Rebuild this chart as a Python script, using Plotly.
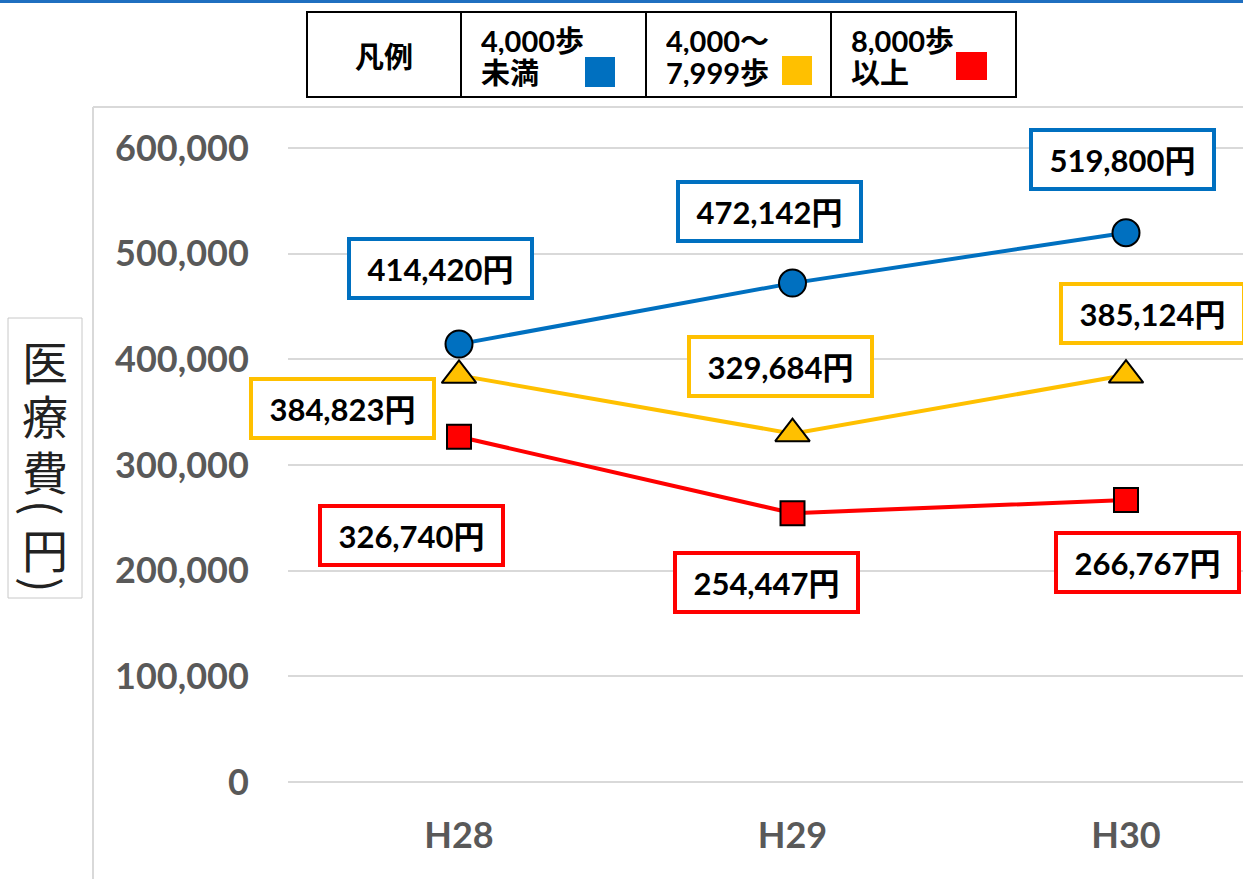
import plotly.graph_objects as go

# ---------------- data ----------------
categories = ["H28", "H29", "H30"]
series_names = ["4,000歩未満", "4,000～7,999歩", "8,000歩以上"]
under_4000 = [414420, 472142, 519800]
from_4000_to_7999 = [384823, 329684, 385124]
over_8000 = [326740, 254447, 266767]
y_ticks = [0, 100000, 200000, 300000, 400000, 500000, 600000]
y_title_chars = ["医", "療", "費", "(", "円", ")"]

# ---------------- layout geometry ----------------
W, H = 1243, 879
L, R, T, B = 288, 0, 116, 77
PW, PH = W - L - R, H - T - B

def pxx(px):
    return (px - L) / PW

def pxy(py):
    return (H - B - py) / PH

# x axis: category i at pixel 459 + 333.5*i
x_unit = 333.5
x0_px = 459
x_range = [(L - x0_px) / x_unit, (W - R - x0_px) / x_unit]
# y axis: 0 at pixel 782, 600000 at pixel 148
per_px = 600000 / (782 - 148)
y_range = [-(H - B - 782) * per_px, 600000 + (148 - T) * per_px]

BLUE = "#0070C0"
YELLOW = "#FFC000"
RED = "#FF0000"

xs = list(range(len(categories)))

fig = go.Figure()
styles = [
    (under_4000, BLUE, "circle", 27),
    (from_4000_to_7999, YELLOW, "triangle-up", 30),
    (over_8000, RED, "square", 24),
]
for name, (vals, col, sym, sz) in zip(series_names, styles):
    fig.add_trace(go.Scatter(
        x=xs, y=vals, mode="lines+markers", name=name,
        line=dict(color=col, width=4),
        marker=dict(symbol=sym, size=sz, color=col, line=dict(color="black", width=2)),
        showlegend=False, cliponaxis=False, hoverinfo="skip",
    ))

# label offsets (box centre relative to marker, pixels; +y up)
label_offsets = [
    [(-19, 76), (-23, 72), (-4, 73)],
    [(-117, -33), (-12, 67), (26, 62)],
    [(-48, -99), (-26, -69), (21, -62)],
]
annotations = []
for (vals, col, _, _), offs in zip(styles, label_offsets):
    for i, (v, (dx, dy)) in enumerate(zip(vals, offs)):
        annotations.append(dict(
            x=i, y=v, xref="x", yref="y", text=f"<b>{v:,}円</b>",
            showarrow=False, xshift=dx, yshift=dy,
            font=dict(family="Lato, Noto Sans CJK JP", size=31, color="black"),
            bgcolor="white", bordercolor=col, borderwidth=4, borderpad=2,
            width=175, height=51, align="center", valign="middle",
        ))

shapes = []
# top blue rule
shapes.append(dict(type="line", xref="paper", yref="paper",
                   x0=pxx(0), x1=pxx(W), y0=pxy(1.5), y1=pxy(1.5),
                   line=dict(color="#1F6FC0", width=3)))
# chart area border (left & top)
shapes.append(dict(type="line", xref="paper", yref="paper",
                   x0=pxx(93), x1=pxx(93), y0=pxy(107), y1=pxy(H + 5),
                   line=dict(color="#D9D9D9", width=2)))
shapes.append(dict(type="line", xref="paper", yref="paper",
                   x0=pxx(93), x1=pxx(W + 5), y0=pxy(107), y1=pxy(107),
                   line=dict(color="#D9D9D9", width=2)))
# y title box
shapes.append(dict(type="rect", xref="paper", yref="paper",
                   x0=pxx(8), x1=pxx(82), y0=pxy(318), y1=pxy(598),
                   line=dict(color="#C8C8C8", width=1), fillcolor="white"))
# legend table
tbl_x = [307, 461, 646, 831, 1016]
tbl_y0, tbl_y1 = 12, 97
shapes.append(dict(type="rect", xref="paper", yref="paper",
                   x0=pxx(tbl_x[0]), x1=pxx(tbl_x[-1]), y0=pxy(tbl_y0), y1=pxy(tbl_y1),
                   line=dict(color="black", width=2), fillcolor="white"))
for xv in tbl_x[1:-1]:
    shapes.append(dict(type="line", xref="paper", yref="paper",
                       x0=pxx(xv), x1=pxx(xv), y0=pxy(tbl_y0), y1=pxy(tbl_y1),
                       line=dict(color="black", width=2)))
# legend colour keys
key_boxes = [(585, 57, 615, 87, BLUE), (782, 56, 812, 85, YELLOW), (956, 52, 987, 80, RED)]
for x0, y0, x1, y1, col in key_boxes:
    shapes.append(dict(type="rect", xref="paper", yref="paper",
                       x0=pxx(x0), x1=pxx(x1), y0=pxy(y0), y1=pxy(y1),
                       line=dict(color=col, width=0), fillcolor=col))

# legend texts
legend_font = dict(family="Lato, Noto Sans CJK JP", size=29, color="black")
annotations.append(dict(x=pxx(384), y=pxy(57), xref="paper", yref="paper",
                        text="<b>凡例</b>", showarrow=False, font=legend_font,
                        xanchor="center", yanchor="middle"))
legend_lines = [("4,000歩", "未満", 479), ("4,000～", "7,999歩", 664), ("8,000歩", "以上", 849)]
for l1, l2, xl in legend_lines:
    annotations.append(dict(x=pxx(xl), y=pxy(40), xref="paper", yref="paper",
                            text=f"<b>{l1}</b>", showarrow=False, font=legend_font,
                            xanchor="left", yanchor="middle", height=30))
    annotations.append(dict(x=pxx(xl), y=pxy(72), xref="paper", yref="paper",
                            text=f"<b>{l2}</b>", showarrow=False, font=legend_font,
                            xanchor="left", yanchor="middle", height=30))

# y title characters (parentheses rotated for vertical writing)
title_y = [360, 414, 470, 508, 548, 585]
for ch, cy in zip(y_title_chars, title_y):
    ann = dict(x=pxx(45), y=pxy(cy), xref="paper", yref="paper",
               text=ch, showarrow=False,
               font=dict(family="Noto Sans CJK JP", size=46, color="#222222"),
               xanchor="center", yanchor="middle")
    if ch in "()":
        ann["textangle"] = 90
    else:
        ann["width"] = 50
        ann["height"] = 50
    annotations.append(ann)

tick_font = dict(family="Lato", size=36, color="#595959", weight="bold")
fig.update_layout(
    width=W, height=H,
    margin=dict(l=L, r=R, t=T, b=B, pad=0),
    paper_bgcolor="white", plot_bgcolor="white",
    showlegend=False,
    xaxis=dict(range=x_range, tickmode="array", tickvals=xs, ticktext=categories,
               showgrid=False, zeroline=False, showline=False,
               ticks="outside", ticklen=2, tickcolor="rgba(0,0,0,0)",
               tickfont=tick_font),
    yaxis=dict(range=y_range, tickmode="array", tickvals=y_ticks,
               ticktext=[f"{v:,}" for v in y_ticks],
               showgrid=True, gridcolor="#D9D9D9", gridwidth=1.5,
               zeroline=False, showline=False,
               ticks="outside", ticklen=31, tickcolor="rgba(0,0,0,0)",
               tickfont=tick_font),
    shapes=shapes,
    annotations=annotations,
)

fig.write_html("out.html", config={"displayModeBar": False},
               post_script="document.body.style.margin='0';")
